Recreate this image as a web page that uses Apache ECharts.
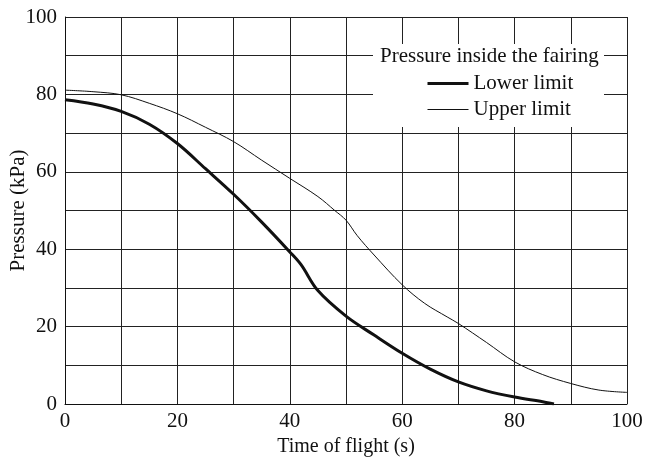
<!DOCTYPE html>
<html>
<head>
<meta charset="utf-8">
<script src="https://cdn.jsdelivr.net/npm/echarts@6/dist/echarts.min.js"></script>
<style>html,body{margin:0;padding:0;background:#fff}#c{width:645px;height:460px}</style>
</head>
<body>
<div id="c"></div>
<script>
var xTicks = [0, 20, 40, 60, 80, 100];
var yTicks = [0, 20, 40, 60, 80, 100];
var lowerT = [0, 5, 10, 15, 20, 25, 30, 35, 40, 42, 45, 50, 55, 60, 65, 70, 75, 80, 85, 87];
var lowerP = [78.6, 77.5, 75.6, 72.3, 67.3, 60.8, 54.2, 47, 39.3, 36, 29.3, 22.7, 17.8, 13.1, 9.0, 5.7, 3.4, 1.8, 0.6, 0];
var upperT = [0, 5, 10, 15, 20, 25, 30, 35, 40, 45, 48, 50, 52, 55, 60, 64, 68, 70, 75, 80, 85, 90, 95, 100];
var upperP = [81.1, 80.7, 79.9, 77.7, 75, 71.5, 67.8, 63, 58.3, 53.6, 50, 47.5, 43.5, 38.5, 30.8, 26, 22.5, 20.8, 15.9, 10.9, 7.6, 5.3, 3.6, 3.0];

function pairs(xs, ys) { return xs.map(function (x, i) { return [x, ys[i]]; }); }

var font = 'Liberation Serif';
var chart = echarts.init(document.getElementById('c'));
chart.setOption({
  animation: false,
  backgroundColor: '#fff',
  grid: { left: 65, right: 18, top: 17, bottom: 56, containLabel: false, outerBoundsMode: 'none' },
  xAxis: {
    type: 'value', min: 0, max: 100, interval: 10,
    name: 'Time of flight (s)', nameLocation: 'middle', nameGap: 32,
    nameTextStyle: { fontFamily: font, fontSize: 20, color: '#111' },
    axisLine: { show: true, lineStyle: { color: '#111', width: 1 } },
    axisTick: { show: false },
    axisLabel: {
      fontFamily: font, fontSize: 21, color: '#111', margin: 7,
      formatter: function (v) { return xTicks.indexOf(v) >= 0 ? String(v) : ''; }
    },
    splitLine: { show: true, lineStyle: { color: '#222', width: 1 } }
  },
  yAxis: {
    type: 'value', min: 0, max: 100, interval: 10,
    name: 'Pressure (kPa)', nameLocation: 'middle', nameGap: 36, nameMoveOverlap: false,
    nameTextStyle: { fontFamily: font, fontSize: 21, color: '#111' },
    axisLine: { show: true, lineStyle: { color: '#111', width: 1 } },
    axisTick: { show: false },
    axisLabel: {
      fontFamily: font, fontSize: 21, color: '#111', margin: 8,
      formatter: function (v) { return yTicks.indexOf(v) >= 0 ? String(v) : ''; }
    },
    splitLine: { show: true, lineStyle: { color: '#222', width: 1 } }
  },
  graphic: [
    { type: 'rect', z: 3, shape: { x: 373, y: 44, width: 231, height: 83 }, style: { fill: '#fff' } },
    { type: 'text', z: 4, left: 380, top: 46, style: { text: 'Pressure inside the fairing', font: '21px "Liberation Serif"', fill: '#111' } }
  ],
  legend: {
    orient: 'vertical', left: 426, top: 73, itemWidth: 41, itemHeight: 14, itemGap: 5,
    padding: 0,
    itemStyle: { opacity: 0 },
    textStyle: { fontFamily: font, fontSize: 21, color: '#111' },
    data: [
      { name: 'Lower limit', lineStyle: { width: 3, color: '#111' } },
      { name: 'Upper limit', lineStyle: { width: 1, color: '#111' } }
    ]
  },
  series: [
    { name: 'Lower limit', type: 'line', data: pairs(lowerT, lowerP), showSymbol: false, symbol: 'none', smooth: 0.35, lineStyle: { color: '#111', width: 3 }, itemStyle: { color: '#111' } },
    { name: 'Upper limit', type: 'line', data: pairs(upperT, upperP), showSymbol: false, symbol: 'none', smooth: 0.35, lineStyle: { color: '#111', width: 1 }, itemStyle: { color: '#111' } }
  ]
});
</script>
</body>
</html>
